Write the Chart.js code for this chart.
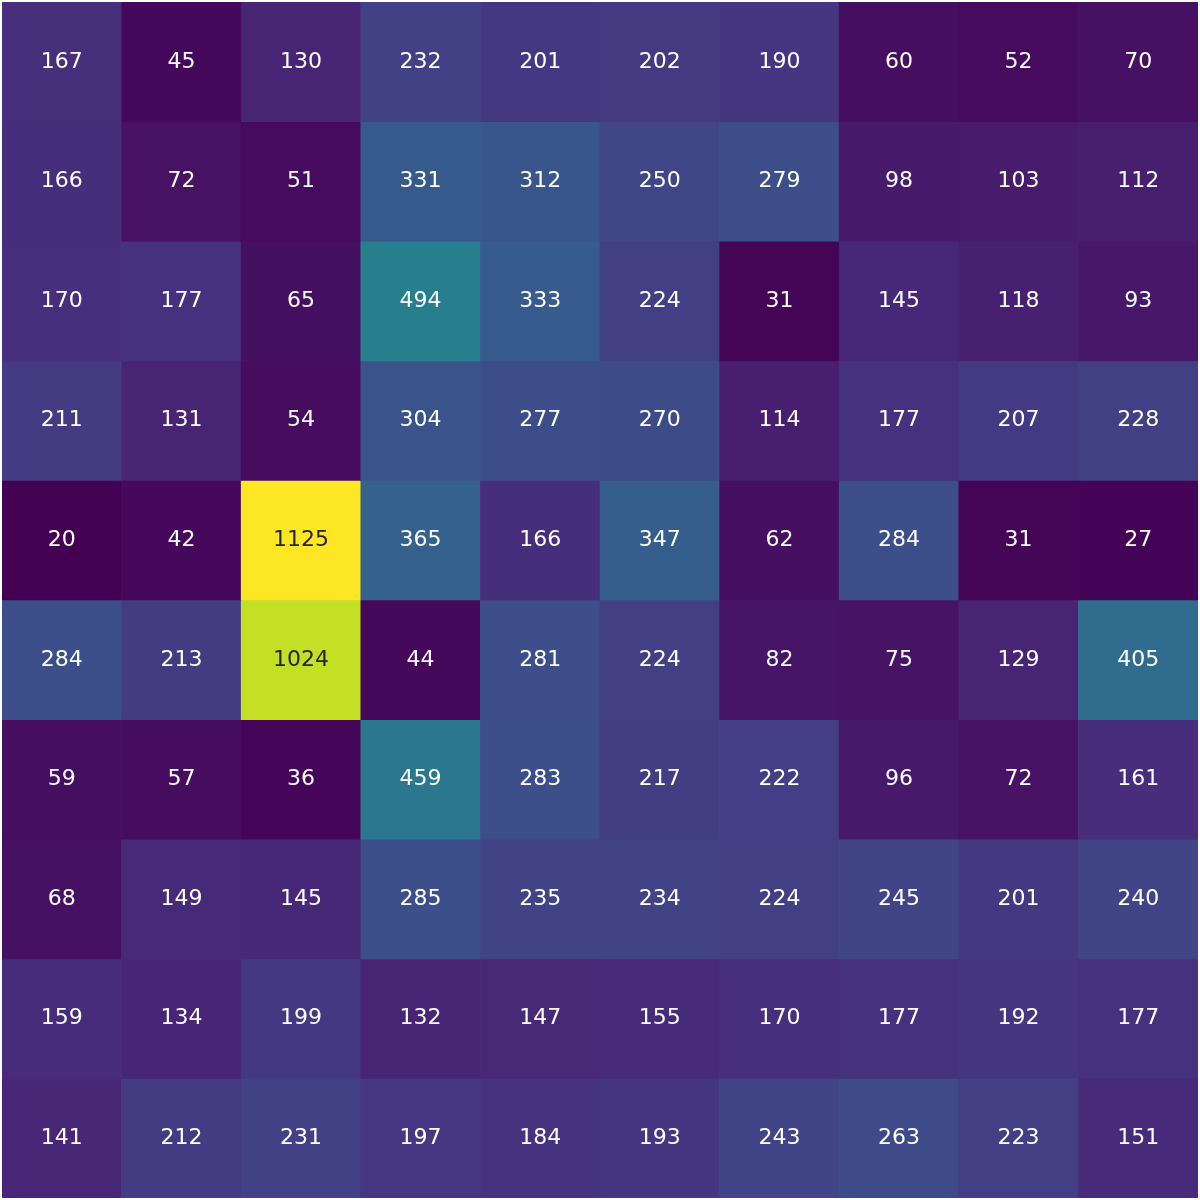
<!DOCTYPE html>
<html>
<head>
<meta charset="utf-8">
<script src="https://cdn.jsdelivr.net/npm/chart.js@4.4.0/dist/chart.umd.min.js"></script>
<style>
  html, body { margin: 0; padding: 0; background: #fff; }
  #wrap { width: 1200px; height: 1200px; }
</style>
</head>
<body>
<div id="wrap"><canvas id="myChart" width="1200" height="1200"></canvas></div>
<script>
'use strict';
const columns = ['c0', 'c1', 'c2', 'c3', 'c4', 'c5', 'c6', 'c7', 'c8', 'c9'];
const rowNames = ['r0', 'r1', 'r2', 'r3', 'r4', 'r5', 'r6', 'r7', 'r8', 'r9'];

const row0 = [167, 45, 130, 232, 201, 202, 190, 60, 52, 70];
const row1 = [166, 72, 51, 331, 312, 250, 279, 98, 103, 112];
const row2 = [170, 177, 65, 494, 333, 224, 31, 145, 118, 93];
const row3 = [211, 131, 54, 304, 277, 270, 114, 177, 207, 228];
const row4 = [20, 42, 1125, 365, 166, 347, 62, 284, 31, 27];
const row5 = [284, 213, 1024, 44, 281, 224, 82, 75, 129, 405];
const row6 = [59, 57, 36, 459, 283, 217, 222, 96, 72, 161];
const row7 = [68, 149, 145, 285, 235, 234, 224, 245, 201, 240];
const row8 = [159, 134, 199, 132, 147, 155, 170, 177, 192, 177];
const row9 = [141, 212, 231, 197, 184, 193, 243, 263, 223, 151];
const rows = [row0, row1, row2, row3, row4, row5, row6, row7, row8, row9];

// viridis stops
const viridis = ['#440154', '#471365', '#482475', '#463480', '#414487', '#3b528b',
  '#355f8d', '#2f6c8e', '#2a788e', '#25848e', '#21918c', '#1e9c89', '#22a884',
  '#2fb47c', '#44bf70', '#5ec962', '#7ad151', '#9bd93c', '#bddf26', '#dfe318', '#fde725'];

function hexToRgb(h) {
  return [parseInt(h.slice(1, 3), 16), parseInt(h.slice(3, 5), 16), parseInt(h.slice(5, 7), 16)];
}

let allValues = [].concat(...rows);
let vmin = Math.min(...allValues);
let vmax = Math.max(...allValues);

function colorFor(v) {
  let t = (v - vmin) / (vmax - vmin);
  let pos = t * (viridis.length - 1);
  let i = Math.min(Math.floor(pos), viridis.length - 2);
  let f = pos - i;
  let a = hexToRgb(viridis[i]);
  let b = hexToRgb(viridis[i + 1]);
  let c = a.map((x, k) => Math.round(x + (b[k] - x) * f));
  return `rgb(${c[0]}, ${c[1]}, ${c[2]})`;
}

const datasets = [];
for (let r = 0; r < rows.length; r++) {
  datasets.push({
    label: rowNames[r],
    data: rows[r].map(() => 1),
    values: rows[r],
    backgroundColor: rows[r].map(colorFor),
    borderWidth: 0,
    barPercentage: 1,
    categoryPercentage: 1
  });
}

// write the numbers in each cell
const cellText = {
  id: 'cellText',
  afterDatasetsDraw(chart) {
    let ctx = chart.ctx;
    ctx.save();
    ctx.font = '22px "DejaVu Sans"';
    ctx.textAlign = 'center';
    ctx.textBaseline = 'middle';
    chart.data.datasets.forEach((ds, di) => {
      let meta = chart.getDatasetMeta(di);
      meta.data.forEach((bar, i) => {
        let v = ds.values[i];
        ctx.fillStyle = v > vmax / 2 ? '#262626' : '#ffffff';
        ctx.fillText(String(v), bar.x, (bar.y + bar.base) / 2);
      });
    });
    ctx.restore();
  }
};

let ctx = document.getElementById('myChart').getContext('2d');
let chart = new Chart(ctx, {
  type: 'bar',
  data: {
    labels: columns,
    datasets: datasets
  },
  options: {
    responsive: false,
    animation: false,
    layout: { padding: 2 },
    plugins: {
      legend: { display: false },
      tooltip: { enabled: false }
    },
    scales: {
      x: { stacked: true, display: false },
      y: { stacked: true, display: false, reverse: true, min: 0, max: 10 }
    }
  },
  plugins: [cellText]
});
</script>
</body>
</html>
